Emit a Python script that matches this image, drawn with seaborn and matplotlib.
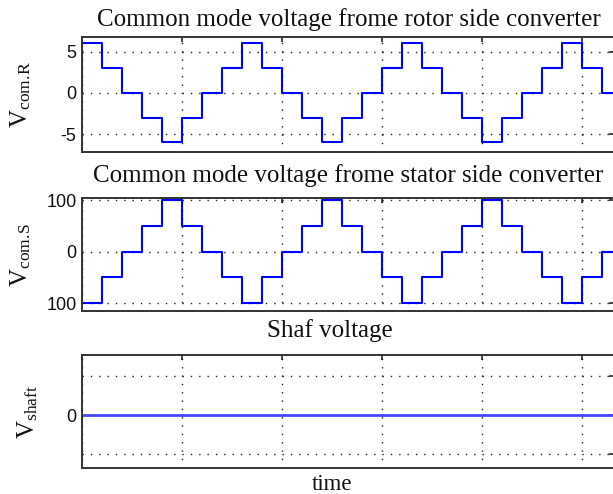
import numpy as np
import pandas as pd
import matplotlib
matplotlib.use("Agg")
import matplotlib.pyplot as plt
import seaborn as sns
from matplotlib.ticker import FixedLocator, FixedFormatter

# ---------------- data ----------------
step_start = list(range(27))          # start of each constant step (time units)
initial_value = 0                      # signals start from 0 at t = 0
rotor_cmv = [6, 3, 0, -3, -6, -3, 0, 3,
             6, 3, 0, -3, -6, -3, 0, 3,
             6, 3, 0, -3, -6, -3, 0, 3,
             6, 3, 0]
stator_cmv = [-100, -50, 0, 50, 100, 50, 0, -50,
              -100, -50, 0, 50, 100, 50, 0, -50,
              -100, -50, 0, 50, 100, 50, 0, -50,
              -100, -50, 0]
shaft_v = [0] * 27

titles = ["Common mode voltage frome rotor side converter",
          "Common mode voltage frome stator side converter",
          "Shaf voltage"]
ylabels = [r"$\mathrm{V}_{\mathrm{com.\!R}}$",
           r"$\mathrm{V}_{\mathrm{com.\!S}}$",
           r"$\mathrm{V}_{\mathrm{shaft}}$"]
yticks = [[-5, 0, 5], [-100, 0, 100], [-1, 0, 1]]
yticklabels = [["-5", "0", "5"], ["100", "0", "100"], ["", "0", ""]]
xticks = [0, 5, 10, 15, 20, 25]
xlabel = "time"

# ---------------- style ----------------
sns.set_style("white")
plt.rcParams["font.family"] = ["Liberation Sans", "DejaVu Sans"]
plt.rcParams["mathtext.fontset"] = "custom"
plt.rcParams["mathtext.rm"] = "Liberation Serif"
plt.rcParams["mathtext.it"] = "Liberation Serif:italic"
plt.rcParams["axes.unicode_minus"] = False

W, H = 613, 494
fig = plt.figure(figsize=(W / 100, H / 100), dpi=100)

def frac_box(x0, y0, x1, y1):
    return [x0 / W, 1 - y1 / H, (x1 - x0) / W, (y1 - y0) / H]

boxes = [frac_box(82, 37.5, 614, 152),
         frac_box(82, 198.3, 614, 311),
         frac_box(82, 355, 614, 468.3)]
ylims = [(-7.15, 6.7), (-115, 103.3), (-1.35, 1.52)]
title_x = [0.502, 0.500, 0.466]
title_pad = [8, 12, 13.2]
ylabel_x = [-0.092, -0.092, -0.079]
series = [rotor_cmv, stator_cmv, shaft_v]
colors = ["#0000ff", "#0000ff", "#4646ff"]
lws = [1.5, 1.5, 2.0]

serif = ["Liberation Serif", "DejaVu Serif"]

for i in range(3):
    ax = fig.add_axes(boxes[i])
    vals = series[i]
    t = [step_start[0]] + step_start + [step_start[-1] + 1]
    v = [initial_value] + vals + [vals[-1]]
    df = pd.DataFrame({"t": t, "v": v})
    sns.lineplot(data=df, x="t", y="v", ax=ax, estimator=None, sort=False,
                 drawstyle="steps-post", color=colors[i], linewidth=lws[i])
    ax.set_xlim(0, 26.6)
    ax.set_ylim(*ylims[i])
    ax.xaxis.set_major_locator(FixedLocator(xticks))
    ax.set_xticklabels([])
    ax.yaxis.set_major_locator(FixedLocator(yticks[i]))
    ax.yaxis.set_major_formatter(FixedFormatter(yticklabels[i]))
    ax.grid(True, color="#222222", linestyle=(0, (1, 5)), linewidth=1.0)
    ax.tick_params(direction="in", length=3.8, width=1.2, top=True, right=True,
                   labelsize=13, pad=4, colors="#222222", labelcolor="#111111")
    for sp in ax.spines.values():
        sp.set_color("#333333")
        sp.set_linewidth(1.4)
    ax.set_title(titles[i], fontsize=18, family=serif, x=title_x[i],
                 pad=title_pad[i], color="#111111")
    ax.set_ylabel(ylabels[i], fontsize=18, color="#111111")
    ax.yaxis.set_label_coords(ylabel_x[i], 0.5)
    if i == 2:
        ax.set_xlabel(xlabel, fontsize=16.5, family=serif, color="#111111")
        ax.xaxis.set_label_coords(0.47, -0.05)
    else:
        ax.set_xlabel("")

fig.savefig("out.png", dpi=100)
